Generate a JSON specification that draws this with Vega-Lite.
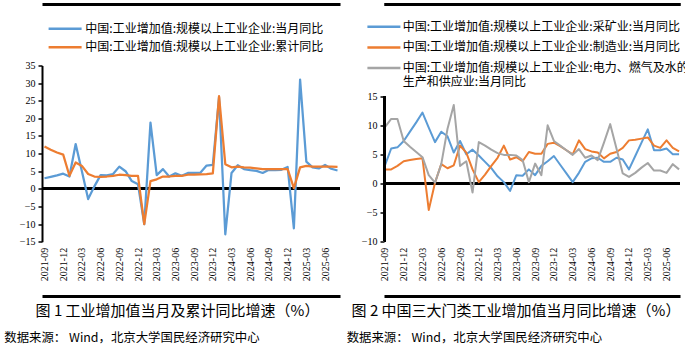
{
 "$schema": "https://vega.github.io/schema/vega-lite/v6.json",
 "background": "white",
 "padding": {"left": 4, "top": 3.5, "right": 0, "bottom": 0},
 "spacing": 4,
 "resolve": {"scale": {"color": "independent"}, "legend": {"color": "independent"}},
 "config": {"view": {"stroke": null}, "font": "Noto Sans CJK SC"},
 "datasets": {
  "p1": [
{"m":"2021-09","s":"中国:工业增加值:规模以上工业企业:当月同比","v":3.0},
{"m":"2021-10","s":"中国:工业增加值:规模以上工业企业:当月同比","v":3.4},
{"m":"2021-11","s":"中国:工业增加值:规模以上工业企业:当月同比","v":3.8},
{"m":"2021-12","s":"中国:工业增加值:规模以上工业企业:当月同比","v":4.3},
{"m":"2022-01","s":"中国:工业增加值:规模以上工业企业:当月同比","v":3.5},
{"m":"2022-02","s":"中国:工业增加值:规模以上工业企业:当月同比","v":12.7},
{"m":"2022-03","s":"中国:工业增加值:规模以上工业企业:当月同比","v":5.0},
{"m":"2022-04","s":"中国:工业增加值:规模以上工业企业:当月同比","v":-2.9},
{"m":"2022-05","s":"中国:工业增加值:规模以上工业企业:当月同比","v":0.7},
{"m":"2022-06","s":"中国:工业增加值:规模以上工业企业:当月同比","v":3.9},
{"m":"2022-07","s":"中国:工业增加值:规模以上工业企业:当月同比","v":3.8},
{"m":"2022-08","s":"中国:工业增加值:规模以上工业企业:当月同比","v":4.2},
{"m":"2022-09","s":"中国:工业增加值:规模以上工业企业:当月同比","v":6.3},
{"m":"2022-10","s":"中国:工业增加值:规模以上工业企业:当月同比","v":5.0},
{"m":"2022-11","s":"中国:工业增加值:规模以上工业企业:当月同比","v":2.2},
{"m":"2022-12","s":"中国:工业增加值:规模以上工业企业:当月同比","v":1.3},
{"m":"2023-01","s":"中国:工业增加值:规模以上工业企业:当月同比","v":-10.0},
{"m":"2023-02","s":"中国:工业增加值:规模以上工业企业:当月同比","v":18.8},
{"m":"2023-03","s":"中国:工业增加值:规模以上工业企业:当月同比","v":3.9},
{"m":"2023-04","s":"中国:工业增加值:规模以上工业企业:当月同比","v":5.6},
{"m":"2023-05","s":"中国:工业增加值:规模以上工业企业:当月同比","v":3.5},
{"m":"2023-06","s":"中国:工业增加值:规模以上工业企业:当月同比","v":4.4},
{"m":"2023-07","s":"中国:工业增加值:规模以上工业企业:当月同比","v":3.7},
{"m":"2023-08","s":"中国:工业增加值:规模以上工业企业:当月同比","v":4.5},
{"m":"2023-09","s":"中国:工业增加值:规模以上工业企业:当月同比","v":4.5},
{"m":"2023-10","s":"中国:工业增加值:规模以上工业企业:当月同比","v":4.6},
{"m":"2023-11","s":"中国:工业增加值:规模以上工业企业:当月同比","v":6.6},
{"m":"2023-12","s":"中国:工业增加值:规模以上工业企业:当月同比","v":6.8},
{"m":"2024-01","s":"中国:工业增加值:规模以上工业企业:当月同比","v":26.0},
{"m":"2024-02","s":"中国:工业增加值:规模以上工业企业:当月同比","v":-12.9},
{"m":"2024-03","s":"中国:工业增加值:规模以上工业企业:当月同比","v":4.5},
{"m":"2024-04","s":"中国:工业增加值:规模以上工业企业:当月同比","v":6.7},
{"m":"2024-05","s":"中国:工业增加值:规模以上工业企业:当月同比","v":5.6},
{"m":"2024-06","s":"中国:工业增加值:规模以上工业企业:当月同比","v":5.3},
{"m":"2024-07","s":"中国:工业增加值:规模以上工业企业:当月同比","v":5.1},
{"m":"2024-08","s":"中国:工业增加值:规模以上工业企业:当月同比","v":4.5},
{"m":"2024-09","s":"中国:工业增加值:规模以上工业企业:当月同比","v":5.4},
{"m":"2024-10","s":"中国:工业增加值:规模以上工业企业:当月同比","v":5.3},
{"m":"2024-11","s":"中国:工业增加值:规模以上工业企业:当月同比","v":5.4},
{"m":"2024-12","s":"中国:工业增加值:规模以上工业企业:当月同比","v":6.2},
{"m":"2025-01","s":"中国:工业增加值:规模以上工业企业:当月同比","v":-11.2},
{"m":"2025-02","s":"中国:工业增加值:规模以上工业企业:当月同比","v":31.0},
{"m":"2025-03","s":"中国:工业增加值:规模以上工业企业:当月同比","v":7.7},
{"m":"2025-04","s":"中国:工业增加值:规模以上工业企业:当月同比","v":6.1},
{"m":"2025-05","s":"中国:工业增加值:规模以上工业企业:当月同比","v":5.8},
{"m":"2025-06","s":"中国:工业增加值:规模以上工业企业:当月同比","v":6.8},
{"m":"2025-07","s":"中国:工业增加值:规模以上工业企业:当月同比","v":5.7},
{"m":"2025-08","s":"中国:工业增加值:规模以上工业企业:当月同比","v":5.2},
{"m":"2021-09","s":"中国:工业增加值:规模以上工业企业:累计同比","v":12.0},
{"m":"2021-10","s":"中国:工业增加值:规模以上工业企业:累计同比","v":11.1},
{"m":"2021-11","s":"中国:工业增加值:规模以上工业企业:累计同比","v":10.3},
{"m":"2021-12","s":"中国:工业增加值:规模以上工业企业:累计同比","v":9.7},
{"m":"2022-01","s":"中国:工业增加值:规模以上工业企业:累计同比","v":3.7},
{"m":"2022-02","s":"中国:工业增加值:规模以上工业企业:累计同比","v":7.5},
{"m":"2022-03","s":"中国:工业增加值:规模以上工业企业:累计同比","v":6.5},
{"m":"2022-04","s":"中国:工业增加值:规模以上工业企业:累计同比","v":4.2},
{"m":"2022-05","s":"中国:工业增加值:规模以上工业企业:累计同比","v":3.5},
{"m":"2022-06","s":"中国:工业增加值:规模以上工业企业:累计同比","v":3.4},
{"m":"2022-07","s":"中国:工业增加值:规模以上工业企业:累计同比","v":3.5},
{"m":"2022-08","s":"中国:工业增加值:规模以上工业企业:累计同比","v":3.7},
{"m":"2022-09","s":"中国:工业增加值:规模以上工业企业:累计同比","v":4.0},
{"m":"2022-10","s":"中国:工业增加值:规模以上工业企业:累计同比","v":3.9},
{"m":"2022-11","s":"中国:工业增加值:规模以上工业企业:累计同比","v":3.7},
{"m":"2022-12","s":"中国:工业增加值:规模以上工业企业:累计同比","v":3.7},
{"m":"2023-01","s":"中国:工业增加值:规模以上工业企业:累计同比","v":-10.0},
{"m":"2023-02","s":"中国:工业增加值:规模以上工业企业:累计同比","v":2.2},
{"m":"2023-03","s":"中国:工业增加值:规模以上工业企业:累计同比","v":2.7},
{"m":"2023-04","s":"中国:工业增加值:规模以上工业企业:累计同比","v":3.5},
{"m":"2023-05","s":"中国:工业增加值:规模以上工业企业:累计同比","v":3.5},
{"m":"2023-06","s":"中国:工业增加值:规模以上工业企业:累计同比","v":3.7},
{"m":"2023-07","s":"中国:工业增加值:规模以上工业企业:累计同比","v":3.7},
{"m":"2023-08","s":"中国:工业增加值:规模以上工业企业:累计同比","v":4.0},
{"m":"2023-09","s":"中国:工业增加值:规模以上工业企业:累计同比","v":4.0},
{"m":"2023-10","s":"中国:工业增加值:规模以上工业企业:累计同比","v":4.1},
{"m":"2023-11","s":"中国:工业增加值:规模以上工业企业:累计同比","v":4.2},
{"m":"2023-12","s":"中国:工业增加值:规模以上工业企业:累计同比","v":4.4},
{"m":"2024-01","s":"中国:工业增加值:规模以上工业企业:累计同比","v":26.3},
{"m":"2024-02","s":"中国:工业增加值:规模以上工业企业:累计同比","v":7.0},
{"m":"2024-03","s":"中国:工业增加值:规模以上工业企业:累计同比","v":6.1},
{"m":"2024-04","s":"中国:工业增加值:规模以上工业企业:累计同比","v":6.3},
{"m":"2024-05","s":"中国:工业增加值:规模以上工业企业:累计同比","v":6.1},
{"m":"2024-06","s":"中国:工业增加值:规模以上工业企业:累计同比","v":6.0},
{"m":"2024-07","s":"中国:工业增加值:规模以上工业企业:累计同比","v":5.8},
{"m":"2024-08","s":"中国:工业增加值:规模以上工业企业:累计同比","v":5.6},
{"m":"2024-09","s":"中国:工业增加值:规模以上工业企业:累计同比","v":5.6},
{"m":"2024-10","s":"中国:工业增加值:规模以上工业企业:累计同比","v":5.6},
{"m":"2024-11","s":"中国:工业增加值:规模以上工业企业:累计同比","v":5.6},
{"m":"2024-12","s":"中国:工业增加值:规模以上工业企业:累计同比","v":5.6},
{"m":"2025-01","s":"中国:工业增加值:规模以上工业企业:累计同比","v":0.2},
{"m":"2025-02","s":"中国:工业增加值:规模以上工业企业:累计同比","v":6.1},
{"m":"2025-03","s":"中国:工业增加值:规模以上工业企业:累计同比","v":6.5},
{"m":"2025-04","s":"中国:工业增加值:规模以上工业企业:累计同比","v":6.3},
{"m":"2025-05","s":"中国:工业增加值:规模以上工业企业:累计同比","v":6.3},
{"m":"2025-06","s":"中国:工业增加值:规模以上工业企业:累计同比","v":6.3},
{"m":"2025-07","s":"中国:工业增加值:规模以上工业企业:累计同比","v":6.3},
{"m":"2025-08","s":"中国:工业增加值:规模以上工业企业:累计同比","v":6.2}
  ],
  "p2": [
{"m":"2021-09","s":"中国:工业增加值:规模以上工业企业:采矿业:当月同比","v":3.1},
{"m":"2021-10","s":"中国:工业增加值:规模以上工业企业:采矿业:当月同比","v":6.0},
{"m":"2021-11","s":"中国:工业增加值:规模以上工业企业:采矿业:当月同比","v":6.2},
{"m":"2021-12","s":"中国:工业增加值:规模以上工业企业:采矿业:当月同比","v":7.3},
{"m":"2022-01","s":"中国:工业增加值:规模以上工业企业:采矿业:当月同比","v":8.9},
{"m":"2022-02","s":"中国:工业增加值:规模以上工业企业:采矿业:当月同比","v":10.5},
{"m":"2022-03","s":"中国:工业增加值:规模以上工业企业:采矿业:当月同比","v":12.2},
{"m":"2022-04","s":"中国:工业增加值:规模以上工业企业:采矿业:当月同比","v":9.6},
{"m":"2022-05","s":"中国:工业增加值:规模以上工业企业:采矿业:当月同比","v":7.1},
{"m":"2022-06","s":"中国:工业增加值:规模以上工业企业:采矿业:当月同比","v":8.9},
{"m":"2022-07","s":"中国:工业增加值:规模以上工业企业:采矿业:当月同比","v":8.1},
{"m":"2022-08","s":"中国:工业增加值:规模以上工业企业:采矿业:当月同比","v":5.3},
{"m":"2022-09","s":"中国:工业增加值:规模以上工业企业:采矿业:当月同比","v":7.3},
{"m":"2022-10","s":"中国:工业增加值:规模以上工业企业:采矿业:当月同比","v":5.0},
{"m":"2022-11","s":"中国:工业增加值:规模以上工业企业:采矿业:当月同比","v":5.8},
{"m":"2022-12","s":"中国:工业增加值:规模以上工业企业:采矿业:当月同比","v":4.8},
{"m":"2023-01","s":"中国:工业增加值:规模以上工业企业:采矿业:当月同比","v":3.7},
{"m":"2023-02","s":"中国:工业增加值:规模以上工业企业:采矿业:当月同比","v":2.6},
{"m":"2023-03","s":"中国:工业增加值:规模以上工业企业:采矿业:当月同比","v":1.2},
{"m":"2023-04","s":"中国:工业增加值:规模以上工业企业:采矿业:当月同比","v":0.2},
{"m":"2023-05","s":"中国:工业增加值:规模以上工业企业:采矿业:当月同比","v":-1.3},
{"m":"2023-06","s":"中国:工业增加值:规模以上工业企业:采矿业:当月同比","v":1.4},
{"m":"2023-07","s":"中国:工业增加值:规模以上工业企业:采矿业:当月同比","v":1.3},
{"m":"2023-08","s":"中国:工业增加值:规模以上工业企业:采矿业:当月同比","v":2.4},
{"m":"2023-09","s":"中国:工业增加值:规模以上工业企业:采矿业:当月同比","v":1.4},
{"m":"2023-10","s":"中国:工业增加值:规模以上工业企业:采矿业:当月同比","v":3.0},
{"m":"2023-11","s":"中国:工业增加值:规模以上工业企业:采矿业:当月同比","v":3.8},
{"m":"2023-12","s":"中国:工业增加值:规模以上工业企业:采矿业:当月同比","v":4.7},
{"m":"2024-01","s":"中国:工业增加值:规模以上工业企业:采矿业:当月同比","v":3.2},
{"m":"2024-02","s":"中国:工业增加值:规模以上工业企业:采矿业:当月同比","v":1.7},
{"m":"2024-03","s":"中国:工业增加值:规模以上工业企业:采矿业:当月同比","v":0.2},
{"m":"2024-04","s":"中国:工业增加值:规模以上工业企业:采矿业:当月同比","v":1.8},
{"m":"2024-05","s":"中国:工业增加值:规模以上工业企业:采矿业:当月同比","v":3.7},
{"m":"2024-06","s":"中国:工业增加值:规模以上工业企业:采矿业:当月同比","v":4.3},
{"m":"2024-07","s":"中国:工业增加值:规模以上工业企业:采矿业:当月同比","v":4.4},
{"m":"2024-08","s":"中国:工业增加值:规模以上工业企业:采矿业:当月同比","v":3.7},
{"m":"2024-09","s":"中国:工业增加值:规模以上工业企业:采矿业:当月同比","v":3.7},
{"m":"2024-10","s":"中国:工业增加值:规模以上工业企业:采矿业:当月同比","v":4.4},
{"m":"2024-11","s":"中国:工业增加值:规模以上工业企业:采矿业:当月同比","v":4.1},
{"m":"2024-12","s":"中国:工业增加值:规模以上工业企业:采矿业:当月同比","v":2.4},
{"m":"2025-01","s":"中国:工业增加值:规模以上工业企业:采矿业:当月同比","v":4.7},
{"m":"2025-02","s":"中国:工业增加值:规模以上工业企业:采矿业:当月同比","v":7.0},
{"m":"2025-03","s":"中国:工业增加值:规模以上工业企业:采矿业:当月同比","v":9.3},
{"m":"2025-04","s":"中国:工业增加值:规模以上工业企业:采矿业:当月同比","v":5.7},
{"m":"2025-05","s":"中国:工业增加值:规模以上工业企业:采矿业:当月同比","v":5.7},
{"m":"2025-06","s":"中国:工业增加值:规模以上工业企业:采矿业:当月同比","v":6.0},
{"m":"2025-07","s":"中国:工业增加值:规模以上工业企业:采矿业:当月同比","v":5.0},
{"m":"2025-08","s":"中国:工业增加值:规模以上工业企业:采矿业:当月同比","v":5.0},
{"m":"2021-09","s":"中国:工业增加值:规模以上工业企业:制造业:当月同比","v":2.4},
{"m":"2021-10","s":"中国:工业增加值:规模以上工业企业:制造业:当月同比","v":2.4},
{"m":"2021-11","s":"中国:工业增加值:规模以上工业企业:制造业:当月同比","v":3.0},
{"m":"2021-12","s":"中国:工业增加值:规模以上工业企业:制造业:当月同比","v":3.8},
{"m":"2022-01","s":"中国:工业增加值:规模以上工业企业:制造业:当月同比","v":4.0},
{"m":"2022-02","s":"中国:工业增加值:规模以上工业企业:制造业:当月同比","v":4.2},
{"m":"2022-03","s":"中国:工业增加值:规模以上工业企业:制造业:当月同比","v":4.3},
{"m":"2022-04","s":"中国:工业增加值:规模以上工业企业:制造业:当月同比","v":-4.6},
{"m":"2022-05","s":"中国:工业增加值:规模以上工业企业:制造业:当月同比","v":0.1},
{"m":"2022-06","s":"中国:工业增加值:规模以上工业企业:制造业:当月同比","v":3.3},
{"m":"2022-07","s":"中国:工业增加值:规模以上工业企业:制造业:当月同比","v":2.6},
{"m":"2022-08","s":"中国:工业增加值:规模以上工业企业:制造业:当月同比","v":3.1},
{"m":"2022-09","s":"中国:工业增加值:规模以上工业企业:制造业:当月同比","v":6.5},
{"m":"2022-10","s":"中国:工业增加值:规模以上工业企业:制造业:当月同比","v":5.3},
{"m":"2022-11","s":"中国:工业增加值:规模以上工业企业:制造业:当月同比","v":2.4},
{"m":"2022-12","s":"中国:工业增加值:规模以上工业企业:制造业:当月同比","v":0.2},
{"m":"2023-01","s":"中国:工业增加值:规模以上工业企业:制造业:当月同比","v":1.5},
{"m":"2023-02","s":"中国:工业增加值:规模以上工业企业:制造业:当月同比","v":3.0},
{"m":"2023-03","s":"中国:工业增加值:规模以上工业企业:制造业:当月同比","v":4.4},
{"m":"2023-04","s":"中国:工业增加值:规模以上工业企业:制造业:当月同比","v":6.5},
{"m":"2023-05","s":"中国:工业增加值:规模以上工业企业:制造业:当月同比","v":4.1},
{"m":"2023-06","s":"中国:工业增加值:规模以上工业企业:制造业:当月同比","v":4.5},
{"m":"2023-07","s":"中国:工业增加值:规模以上工业企业:制造业:当月同比","v":3.8},
{"m":"2023-08","s":"中国:工业增加值:规模以上工业企业:制造业:当月同比","v":5.4},
{"m":"2023-09","s":"中国:工业增加值:规模以上工业企业:制造业:当月同比","v":5.1},
{"m":"2023-10","s":"中国:工业增加值:规模以上工业企业:制造业:当月同比","v":5.1},
{"m":"2023-11","s":"中国:工业增加值:规模以上工业企业:制造业:当月同比","v":6.8},
{"m":"2023-12","s":"中国:工业增加值:规模以上工业企业:制造业:当月同比","v":7.0},
{"m":"2024-01","s":"中国:工业增加值:规模以上工业企业:制造业:当月同比","v":6.4},
{"m":"2024-02","s":"中国:工业增加值:规模以上工业企业:制造业:当月同比","v":5.7},
{"m":"2024-03","s":"中国:工业增加值:规模以上工业企业:制造业:当月同比","v":5.0},
{"m":"2024-04","s":"中国:工业增加值:规模以上工业企业:制造业:当月同比","v":7.4},
{"m":"2024-05","s":"中国:工业增加值:规模以上工业企业:制造业:当月同比","v":5.9},
{"m":"2024-06","s":"中国:工业增加值:规模以上工业企业:制造业:当月同比","v":5.5},
{"m":"2024-07","s":"中国:工业增加值:规模以上工业企业:制造业:当月同比","v":5.3},
{"m":"2024-08","s":"中国:工业增加值:规模以上工业企业:制造业:当月同比","v":4.3},
{"m":"2024-09","s":"中国:工业增加值:规模以上工业企业:制造业:当月同比","v":5.1},
{"m":"2024-10","s":"中国:工业增加值:规模以上工业企业:制造业:当月同比","v":5.4},
{"m":"2024-11","s":"中国:工业增加值:规模以上工业企业:制造业:当月同比","v":6.1},
{"m":"2024-12","s":"中国:工业增加值:规模以上工业企业:制造业:当月同比","v":7.4},
{"m":"2025-01","s":"中国:工业增加值:规模以上工业企业:制造业:当月同比","v":7.5},
{"m":"2025-02","s":"中国:工业增加值:规模以上工业企业:制造业:当月同比","v":7.7},
{"m":"2025-03","s":"中国:工业增加值:规模以上工业企业:制造业:当月同比","v":7.9},
{"m":"2025-04","s":"中国:工业增加值:规模以上工业企业:制造业:当月同比","v":6.5},
{"m":"2025-05","s":"中国:工业增加值:规模以上工业企业:制造业:当月同比","v":6.1},
{"m":"2025-06","s":"中国:工业增加值:规模以上工业企业:制造业:当月同比","v":7.4},
{"m":"2025-07","s":"中国:工业增加值:规模以上工业企业:制造业:当月同比","v":6.1},
{"m":"2025-08","s":"中国:工业增加值:规模以上工业企业:制造业:当月同比","v":5.5},
{"m":"2021-09","s":"中国:工业增加值:规模以上工业企业:电力、燃气及水的生产和供应业:当月同比","v":9.7},
{"m":"2021-10","s":"中国:工业增加值:规模以上工业企业:电力、燃气及水的生产和供应业:当月同比","v":11.1},
{"m":"2021-11","s":"中国:工业增加值:规模以上工业企业:电力、燃气及水的生产和供应业:当月同比","v":11.1},
{"m":"2021-12","s":"中国:工业增加值:规模以上工业企业:电力、燃气及水的生产和供应业:当月同比","v":7.3},
{"m":"2022-01","s":"中国:工业增加值:规模以上工业企业:电力、燃气及水的生产和供应业:当月同比","v":6.3},
{"m":"2022-02","s":"中国:工业增加值:规模以上工业企业:电力、燃气及水的生产和供应业:当月同比","v":5.4},
{"m":"2022-03","s":"中国:工业增加值:规模以上工业企业:电力、燃气及水的生产和供应业:当月同比","v":4.5},
{"m":"2022-04","s":"中国:工业增加值:规模以上工业企业:电力、燃气及水的生产和供应业:当月同比","v":1.4},
{"m":"2022-05","s":"中国:工业增加值:规模以上工业企业:电力、燃气及水的生产和供应业:当月同比","v":0.1},
{"m":"2022-06","s":"中国:工业增加值:规模以上工业企业:电力、燃气及水的生产和供应业:当月同比","v":3.3},
{"m":"2022-07","s":"中国:工业增加值:规模以上工业企业:电力、燃气及水的生产和供应业:当月同比","v":9.4},
{"m":"2022-08","s":"中国:工业增加值:规模以上工业企业:电力、燃气及水的生产和供应业:当月同比","v":13.5},
{"m":"2022-09","s":"中国:工业增加值:规模以上工业企业:电力、燃气及水的生产和供应业:当月同比","v":3.0},
{"m":"2022-10","s":"中国:工业增加值:规模以上工业企业:电力、燃气及水的生产和供应业:当月同比","v":3.8},
{"m":"2022-11","s":"中国:工业增加值:规模以上工业企业:电力、燃气及水的生产和供应业:当月同比","v":-1.6},
{"m":"2022-12","s":"中国:工业增加值:规模以上工业企业:电力、燃气及水的生产和供应业:当月同比","v":7.1},
{"m":"2023-01","s":"中国:工业增加值:规模以上工业企业:电力、燃气及水的生产和供应业:当月同比","v":6.5},
{"m":"2023-02","s":"中国:工业增加值:规模以上工业企业:电力、燃气及水的生产和供应业:当月同比","v":5.8},
{"m":"2023-03","s":"中国:工业增加值:规模以上工业企业:电力、燃气及水的生产和供应业:当月同比","v":5.2},
{"m":"2023-04","s":"中国:工业增加值:规模以上工业企业:电力、燃气及水的生产和供应业:当月同比","v":4.9},
{"m":"2023-05","s":"中国:工业增加值:规模以上工业企业:电力、燃气及水的生产和供应业:当月同比","v":4.9},
{"m":"2023-06","s":"中国:工业增加值:规模以上工业企业:电力、燃气及水的生产和供应业:当月同比","v":4.8},
{"m":"2023-07","s":"中国:工业增加值:规模以上工业企业:电力、燃气及水的生产和供应业:当月同比","v":4.0},
{"m":"2023-08","s":"中国:工业增加值:规模以上工业企业:电力、燃气及水的生产和供应业:当月同比","v":0.2},
{"m":"2023-09","s":"中国:工业增加值:规模以上工业企业:电力、燃气及水的生产和供应业:当月同比","v":3.4},
{"m":"2023-10","s":"中国:工业增加值:规模以上工业企业:电力、燃气及水的生产和供应业:当月同比","v":1.4},
{"m":"2023-11","s":"中国:工业增加值:规模以上工业企业:电力、燃气及水的生产和供应业:当月同比","v":10.0},
{"m":"2023-12","s":"中国:工业增加值:规模以上工业企业:电力、燃气及水的生产和供应业:当月同比","v":7.3},
{"m":"2024-01","s":"中国:工业增加值:规模以上工业企业:电力、燃气及水的生产和供应业:当月同比","v":6.5},
{"m":"2024-02","s":"中国:工业增加值:规模以上工业企业:电力、燃气及水的生产和供应业:当月同比","v":5.7},
{"m":"2024-03","s":"中国:工业增加值:规模以上工业企业:电力、燃气及水的生产和供应业:当月同比","v":4.9},
{"m":"2024-04","s":"中国:工业增加值:规模以上工业企业:电力、燃气及水的生产和供应业:当月同比","v":5.9},
{"m":"2024-05","s":"中国:工业增加值:规模以上工业企业:电力、燃气及水的生产和供应业:当月同比","v":4.4},
{"m":"2024-06","s":"中国:工业增加值:规模以上工业企业:电力、燃气及水的生产和供应业:当月同比","v":4.8},
{"m":"2024-07","s":"中国:工业增加值:规模以上工业企业:电力、燃气及水的生产和供应业:当月同比","v":4.0},
{"m":"2024-08","s":"中国:工业增加值:规模以上工业企业:电力、燃气及水的生产和供应业:当月同比","v":7.0},
{"m":"2024-09","s":"中国:工业增加值:规模以上工业企业:电力、燃气及水的生产和供应业:当月同比","v":10.2},
{"m":"2024-10","s":"中国:工业增加值:规模以上工业企业:电力、燃气及水的生产和供应业:当月同比","v":6.0},
{"m":"2024-11","s":"中国:工业增加值:规模以上工业企业:电力、燃气及水的生产和供应业:当月同比","v":1.7},
{"m":"2024-12","s":"中国:工业增加值:规模以上工业企业:电力、燃气及水的生产和供应业:当月同比","v":1.1},
{"m":"2025-01","s":"中国:工业增加值:规模以上工业企业:电力、燃气及水的生产和供应业:当月同比","v":1.8},
{"m":"2025-02","s":"中国:工业增加值:规模以上工业企业:电力、燃气及水的生产和供应业:当月同比","v":2.7},
{"m":"2025-03","s":"中国:工业增加值:规模以上工业企业:电力、燃气及水的生产和供应业:当月同比","v":3.5},
{"m":"2025-04","s":"中国:工业增加值:规模以上工业企业:电力、燃气及水的生产和供应业:当月同比","v":2.2},
{"m":"2025-05","s":"中国:工业增加值:规模以上工业企业:电力、燃气及水的生产和供应业:当月同比","v":2.2},
{"m":"2025-06","s":"中国:工业增加值:规模以上工业企业:电力、燃气及水的生产和供应业:当月同比","v":1.8},
{"m":"2025-07","s":"中国:工业增加值:规模以上工业企业:电力、燃气及水的生产和供应业:当月同比","v":3.3},
{"m":"2025-08","s":"中国:工业增加值:规模以上工业企业:电力、燃气及水的生产和供应业:当月同比","v":2.4}
  ]
 },
 "hconcat": [
  {
   "width": 298,
   "height": 176.2,
   "data": {"name": "p1"},
   "title": {"text": "数据来源：  Wind，北京大学国民经济研究中心", "orient": "bottom", "anchor": "start", "frame": "group", "dx": -37.7, "offset": 13, "font": "Noto Sans CJK SC", "fontSize": 12.4, "fontWeight": "normal", "color": "black"},
   "layer": [
    {
     "mark": {"type": "rule", "color": "black", "strokeWidth": 2.5},
     "encoding": {"y": {"datum": 0, "type": "quantitative",
            "axis": {"orient": "left", "values": [-15,-10,-5,0,5,10,15,20,25,30,35], "title": null, "grid": false, "domain": true, "domainColor": "black", "domainWidth": 2, "labelOverlap": false,
                     "ticks": true, "tickColor": "black", "tickSize": 4, "tickWidth": 1.5, "labelFont": "Liberation Serif", "labelFontSize": 10, "labelColor": "black", "labelPadding": 3}}}
    },
    {
     "transform": [{"filter": "datum.s == '中国:工业增加值:规模以上工业企业:当月同比'"}],
     "mark": {"type": "line", "strokeWidth": 2.25, "strokeJoin": "round"},
     "encoding": {
      "x": {"field": "m", "type": "ordinal", "sort": "ascending", "scale": {"type": "point", "padding": 0.4},
            "axis": {"orient": "bottom", "values": ["2021-09","2021-12","2022-03","2022-06","2022-09","2022-12","2023-03","2023-06","2023-09","2023-12","2024-03","2024-06","2024-09","2024-12","2025-03","2025-06"],
                     "labelAngle": -90, "labelFont": "Liberation Serif", "labelFontSize": 10, "labelColor": "black", "labelPadding": -48.7, "labelOverlap": false,
                     "ticks": false, "grid": false, "domain": true, "domainColor": "black", "domainWidth": 3, "offset": 54.3,
                     "title": "图 1 工业增加值当月及累计同比增速（%）", "titleX": 135, "titleY": 14.7, "titleAlign": "center", "titleBaseline": "middle",
                     "titleFont": "Noto Sans CJK SC", "titleFontSize": 15, "titleFontWeight": "normal", "titleColor": "black"}},
      "y": {"field": "v", "type": "quantitative", "scale": {"domain": [-15, 35], "nice": false, "zero": false},
            "axis": {"orient": "left", "values": [-15,-10,-5,0,5,10,15,20,25,30,35], "title": null, "grid": false, "domain": true, "domainColor": "black", "domainWidth": 2, "labelOverlap": false,
                     "ticks": true, "tickColor": "black", "tickSize": 4, "tickWidth": 1.5, "labelFont": "Liberation Serif", "labelFontSize": 10, "labelColor": "black", "labelPadding": 3}},
      "color": {"field": "s", "type": "nominal",
                "scale": {"domain": ["中国:工业增加值:规模以上工业企业:当月同比", "中国:工业增加值:规模以上工业企业:累计同比"], "range": ["#5B9BD5", "#ED7D31"]},
                "legend": {"orient": "none", "legendX": 5.1, "legendY": -42.7, "title": null, "symbolType": "stroke", "symbolSize": 1089, "symbolStrokeWidth": 2.5,
                           "labelFont": "Noto Sans CJK SC", "labelFontSize": 12, "labelColor": "black", "labelLimit": 1000, "labelOffset": 2.2,
                           "clipHeight": 12, "rowPadding": 6.4, "padding": 0, "direction": "vertical"}}
     }
    },
    {
     "transform": [{"filter": "datum.s == '中国:工业增加值:规模以上工业企业:累计同比'"}],
     "mark": {"type": "line", "strokeWidth": 2.25, "strokeJoin": "round"},
     "encoding": {
      "x": {"field": "m", "type": "ordinal", "sort": "ascending", "scale": {"type": "point", "padding": 0.4},
            "axis": {"orient": "top", "labels": false, "ticks": false, "grid": false, "domain": true, "domainColor": "black", "domainWidth": 3, "offset": 61.5, "title": null}},
      "y": {"field": "v", "type": "quantitative",
            "axis": {"orient": "left", "values": [-15,-10,-5,0,5,10,15,20,25,30,35], "title": null, "grid": false, "domain": true, "domainColor": "black", "domainWidth": 2, "labelOverlap": false,
                     "ticks": true, "tickColor": "black", "tickSize": 4, "tickWidth": 1.5, "labelFont": "Liberation Serif", "labelFontSize": 10, "labelColor": "black", "labelPadding": 3}},
      "color": {"field": "s", "type": "nominal",
                "legend": {"orient": "none", "legendX": 5.1, "legendY": -42.7, "title": null, "symbolType": "stroke", "symbolSize": 1089, "symbolStrokeWidth": 2.5,
                           "labelFont": "Noto Sans CJK SC", "labelFontSize": 12, "labelColor": "black", "labelLimit": 1000, "labelOffset": 2.2,
                           "clipHeight": 12, "rowPadding": 6.4, "padding": 0, "direction": "vertical"}}
     }
    }
   ]
  },
  {
   "width": 296,
   "height": 175.8,
   "data": {"name": "p2"},
   "title": {"text": "数据来源：  Wind，北京大学国民经济研究中心", "orient": "bottom", "anchor": "start", "frame": "group", "dx": -37.3, "offset": 13, "font": "Noto Sans CJK SC", "fontSize": 12.4, "fontWeight": "normal", "color": "black"},
   "layer": [
    {
     "mark": {"type": "rule", "color": "black", "strokeWidth": 2.5},
     "encoding": {"y": {"datum": 0, "type": "quantitative",
            "axis": {"orient": "left", "values": [-10,-5,0,5,10,15], "title": null, "grid": false, "domain": false, "labelOverlap": false,
                     "ticks": true, "tickColor": "black", "tickSize": 4, "tickWidth": 1.5, "labelFont": "Liberation Serif", "labelFontSize": 10, "labelColor": "black", "labelPadding": 3}}}
    },
    {
     "transform": [{"filter": "datum.s == '中国:工业增加值:规模以上工业企业:采矿业:当月同比'"}],
     "mark": {"type": "line", "strokeWidth": 2, "strokeJoin": "round"},
     "encoding": {
      "x": {"field": "m", "type": "ordinal", "sort": "ascending", "scale": {"type": "point", "padding": 0.15},
            "axis": {"orient": "bottom", "values": ["2021-09","2021-12","2022-03","2022-06","2022-09","2022-12","2023-03","2023-06","2023-09","2023-12","2024-03","2024-06","2024-09","2024-12","2025-03","2025-06"],
                     "labelAngle": -90, "labelFont": "Liberation Serif", "labelFontSize": 10, "labelColor": "black", "labelPadding": -48.7, "labelOverlap": false,
                     "ticks": false, "grid": false, "domain": true, "domainColor": "black", "domainWidth": 3, "offset": 54.7,
                     "title": "图 2 中国三大门类工业增加值当月同比增速（%）", "titleX": 131.5, "titleY": 14.7, "titleAlign": "center", "titleBaseline": "middle",
                     "titleFont": "Noto Sans CJK SC", "titleFontSize": 15, "titleFontWeight": "normal", "titleColor": "black"}},
      "y": {"field": "v", "type": "quantitative", "scale": {"domain": [-10, 20.31], "nice": false, "zero": false},
            "axis": {"orient": "left", "values": [-10,-5,0,5,10,15], "title": null, "grid": false, "domain": false, "labelOverlap": false,
                     "ticks": true, "tickColor": "black", "tickSize": 4, "tickWidth": 1.5, "labelFont": "Liberation Serif", "labelFontSize": 10, "labelColor": "black", "labelPadding": 3}},
      "color": {"field": "s", "type": "nominal",
                "scale": {"domain": ["中国:工业增加值:规模以上工业企业:采矿业:当月同比", "中国:工业增加值:规模以上工业企业:制造业:当月同比", "中国:工业增加值:规模以上工业企业:电力、燃气及水的生产和供应业:当月同比"], "range": ["#5B9BD5", "#ED7D31", "#A5A5A5"]},
                "legend": {"orient": "none", "legendX": -18.1, "legendY": -44.7, "title": null, "symbolType": "stroke", "symbolSize": 1089, "symbolStrokeWidth": 2.5,
                           "labelFont": "Noto Sans CJK SC", "labelFontSize": 12, "labelColor": "black", "labelLimit": 1000, "labelOffset": 0.8,
                           "labelExpr": "length(datum.label) > 30 ? [slice(datum.label, 0, 26), slice(datum.label, 26)] : datum.label",
                           "clipHeight": 12, "rowPadding": 8.6, "padding": 0, "direction": "vertical"}}
     }
    },
    {
     "transform": [{"filter": "datum.s == '中国:工业增加值:规模以上工业企业:制造业:当月同比'"}],
     "mark": {"type": "line", "strokeWidth": 2, "strokeJoin": "round"},
     "encoding": {
      "x": {"field": "m", "type": "ordinal", "sort": "ascending", "scale": {"type": "point", "padding": 0.15},
            "axis": {"orient": "top", "labels": false, "ticks": false, "grid": false, "domain": true, "domainColor": "black", "domainWidth": 3, "offset": 61.5, "title": null}},
      "y": {"field": "v", "type": "quantitative",
            "axis": {"orient": "left", "values": [-10,-5,0,5,10,15], "title": null, "grid": false, "domain": false, "labelOverlap": false,
                     "ticks": true, "tickColor": "black", "tickSize": 4, "tickWidth": 1.5, "labelFont": "Liberation Serif", "labelFontSize": 10, "labelColor": "black", "labelPadding": 3}},
      "color": {"field": "s", "type": "nominal",
                "legend": {"orient": "none", "legendX": -18.1, "legendY": -44.7, "title": null, "symbolType": "stroke", "symbolSize": 1089, "symbolStrokeWidth": 2.5,
                           "labelFont": "Noto Sans CJK SC", "labelFontSize": 12, "labelColor": "black", "labelLimit": 1000, "labelOffset": 0.8,
                           "labelExpr": "length(datum.label) > 30 ? [slice(datum.label, 0, 26), slice(datum.label, 26)] : datum.label",
                           "clipHeight": 12, "rowPadding": 8.6, "padding": 0, "direction": "vertical"}}
     }
    },
    {
     "transform": [{"filter": "datum.s == '中国:工业增加值:规模以上工业企业:电力、燃气及水的生产和供应业:当月同比'"}],
     "mark": {"type": "line", "strokeWidth": 2, "strokeJoin": "round"},
     "encoding": {
      "x": {"field": "m", "type": "ordinal", "sort": "ascending", "scale": {"type": "point", "padding": 0.15}, "axis": null},
      "y": {"field": "v", "type": "quantitative",
            "axis": {"orient": "left", "values": [-10,-5,0,5,10,15], "title": null, "grid": false, "domain": false, "labelOverlap": false,
                     "ticks": true, "tickColor": "black", "tickSize": 4, "tickWidth": 1.5, "labelFont": "Liberation Serif", "labelFontSize": 10, "labelColor": "black", "labelPadding": 3}},
      "color": {"field": "s", "type": "nominal",
                "legend": {"orient": "none", "legendX": -18.1, "legendY": -44.7, "title": null, "symbolType": "stroke", "symbolSize": 1089, "symbolStrokeWidth": 2.5,
                           "labelFont": "Noto Sans CJK SC", "labelFontSize": 12, "labelColor": "black", "labelLimit": 1000, "labelOffset": 0.8,
                           "labelExpr": "length(datum.label) > 30 ? [slice(datum.label, 0, 26), slice(datum.label, 26)] : datum.label",
                           "clipHeight": 12, "rowPadding": 8.6, "padding": 0, "direction": "vertical"}}
     }
    },
    {
     "mark": {"type": "rule", "color": "black", "strokeWidth": 2},
     "encoding": {
      "x": {"datum": "2021-09", "type": "ordinal",
            "axis": {"orient": "top", "labels": false, "ticks": false, "grid": false, "domain": true, "domainColor": "black", "domainWidth": 3, "offset": 61.5, "title": null}},
      "y": {"datum": -10, "type": "quantitative",
            "axis": {"orient": "left", "values": [-10,-5,0,5,10,15], "title": null, "grid": false, "domain": false, "labelOverlap": false,
                     "ticks": true, "tickColor": "black", "tickSize": 4, "tickWidth": 1.5, "labelFont": "Liberation Serif", "labelFontSize": 10, "labelColor": "black", "labelPadding": 3}},
      "y2": {"datum": 15}
     }
    }
   ]
  }
 ]
}
